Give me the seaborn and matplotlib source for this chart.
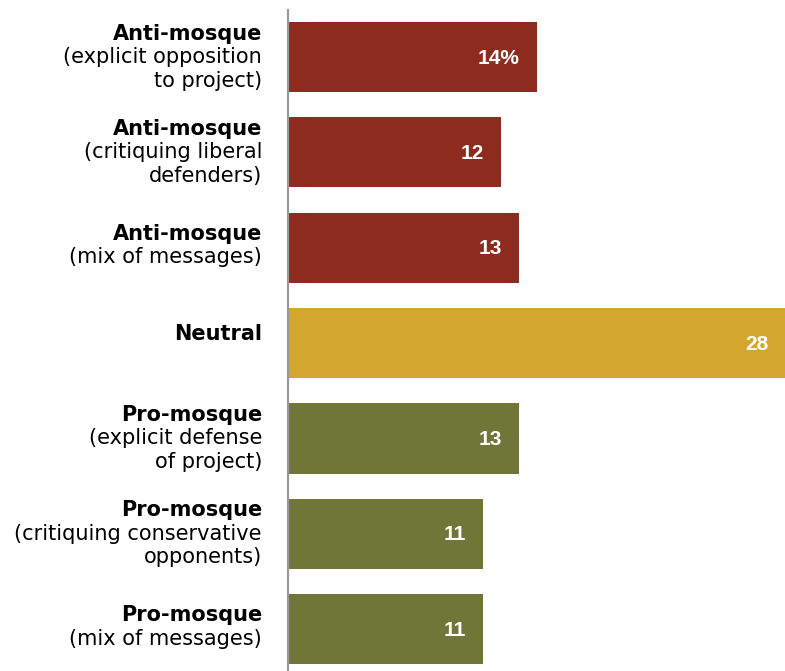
import matplotlib
matplotlib.use("Agg")
import matplotlib.pyplot as plt
import seaborn as sns
import pandas as pd

# Tone of coverage, share of stories
headings = ["Anti-mosque", "Anti-mosque", "Anti-mosque", "Neutral",
            "Pro-mosque", "Pro-mosque", "Pro-mosque"]
details = ["(explicit opposition\nto project)",
           "(critiquing liberal\ndefenders)",
           "(mix of messages)",
           "",
           "(explicit defense\nof project)",
           "(critiquing conservative\nopponents)",
           "(mix of messages)"]
tones = ["anti", "anti", "anti", "neutral", "pro", "pro", "pro"]
shares = [14, 12, 13, 28, 13, 11, 11]
value_labels = ["14%", "12", "13", "28", "13", "11", "11"]

palette = {"anti": "#8E2B1F", "neutral": "#D3A62F", "pro": "#6F7638"}

df = pd.DataFrame({
    "category": [f"{h} {d}".strip() for h, d in zip(headings, details)],
    "share": shares,
    "tone": tones,
})

sns.set_theme(style="white")
plt.rcParams["font.family"] = ["DejaVu Sans"]

W, H = 785, 671
fig = plt.figure(figsize=(W / 100, H / 100), dpi=100)
ax = fig.add_axes([288 / W, 0, 1 - 288 / W, 1 - 10 / H])

sns.barplot(data=df, x="share", y="category", hue="tone", palette=palette,
            orient="h", width=0.737, dodge=False, legend=False, ax=ax,
            saturation=1, linewidth=0)

ax.set_xlim(0, 28)
ax.set_ylim(6.44, -0.493)
ax.set_xticks([])
ax.set_yticks([])
ax.set_xlabel("")
ax.set_ylabel("")
for side in ["top", "right", "bottom"]:
    ax.spines[side].set_visible(False)
ax.spines["left"].set_color("#999999")
ax.spines["left"].set_linewidth(1.6)
ax.spines["left"].set_zorder(5)

# Category labels: bold heading followed by regular detail lines
line_h = 23.5
block_shift = {1: 9, 2: 2, 3: 0}
for i, (h, d) in enumerate(zip(headings, details)):
    lines = [(h, "bold")] + [(t, "normal") for t in d.split("\n") if t]
    n = len(lines)
    for j, (txt, weight) in enumerate(lines):
        dy = ((n - 1) / 2 - j) * line_h + block_shift[n]
        ax.annotate(txt, xy=(0, i), xycoords=("axes fraction", "data"),
                    xytext=(-26, dy), textcoords="offset pixels",
                    ha="right", va="center", fontsize=15, fontweight=weight,
                    color="black", annotation_clip=False)

# Value labels inside the bar ends
for i, (v, lab) in enumerate(zip(shares, value_labels)):
    ax.annotate(lab, xy=(v, i), xycoords="data",
                xytext=(-17, -1), textcoords="offset pixels",
                ha="right", va="center", fontsize=15, fontweight="bold",
                color="white", family="Liberation Sans")

fig.savefig("out.png", dpi=100)
